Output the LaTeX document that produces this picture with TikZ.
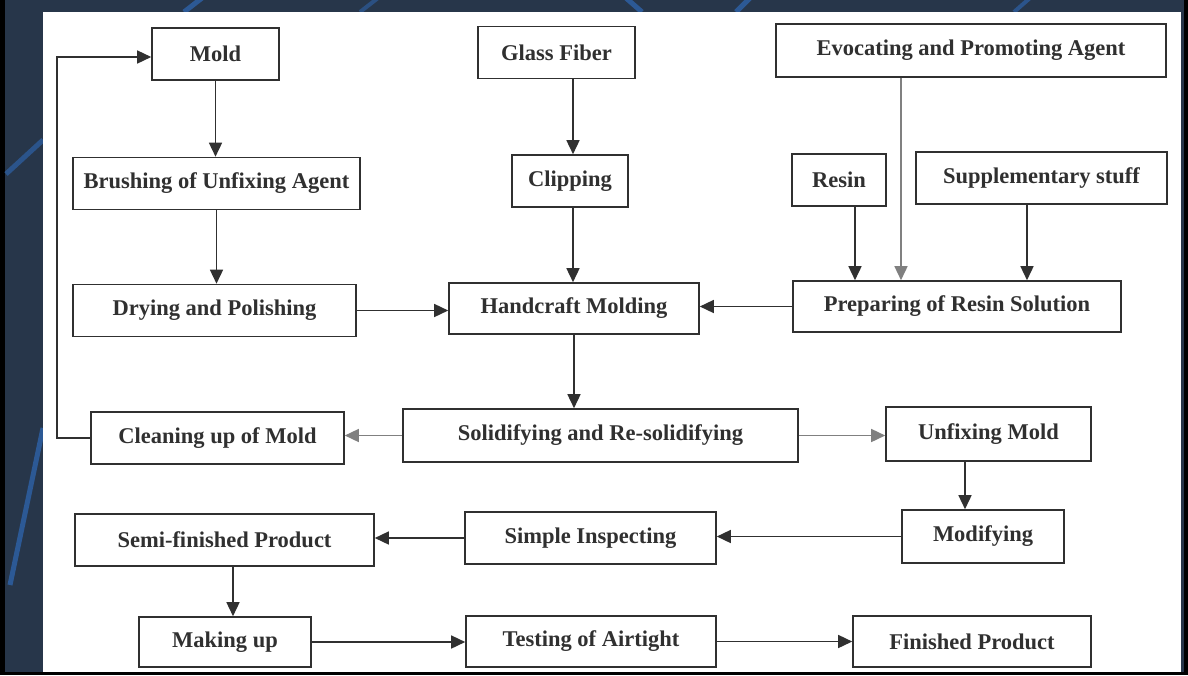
\documentclass[tikz,border=0pt]{standalone}
\usepackage{fontspec}
\setmainfont{Liberation Serif}
\usetikzlibrary{arrows.meta}
\definecolor{navy}{HTML}{27364A}
\definecolor{streak}{HTML}{2E62A8}
\definecolor{ink}{HTML}{303030}
\tikzset{
	stage/.style={draw=ink, line width=1.6pt, fill=white, inner sep=0pt, minimum height=52pt, text=ink, font=\bfseries\fontsize{22.5}{26}\selectfont},
	flow/.style={draw=ink, line width=1.5pt, -{Triangle[length=14pt,width=13pt]}},
	pale/.style={draw=black!50}
}

\begin{document}
\begin{tikzpicture}[x=1pt, y=-1pt]
	\useasboundingbox (0,0) rectangle (1188,675);
	%\draw[help lines, step=50] (0,0) grid (1188,675);
	\fill[black] (0,0) rectangle (1188,675);
	\fill[navy] (5,0) rectangle (1184,672);%slide
	\draw[streak, line width=5pt, opacity=0.8] (184,12) -- (202,-2);
	\draw[streak, line width=4pt, opacity=0.6] (360,12) -- (378,-2);
	\draw[streak, line width=5pt, opacity=0.8] (626,-2) -- (642,12);
	\draw[streak, line width=5pt, opacity=0.8] (750,-2) -- (736,12);
	\draw[streak, line width=4pt, opacity=0.7] (1030,-2) -- (1014,12);
	\draw[streak, line width=5pt, opacity=0.7] (6,174) -- (43,140);
	\draw[streak, line width=5pt, opacity=0.8] (10,585) -- (43,428);
	\fill[white] (43,12) rectangle (1181,672);%paper

	% first column
	\node[stage, minimum width=127pt] (mold) at (215.5,54) {Mold};
	\node[stage, minimum width=287pt] (brush) at (216.5,183.5) {Brushing of Unfixing Agent};
	\node[stage, minimum width=283pt] (dry) at (214.5,310.5) {Drying and Polishing};
	\node[stage, minimum width=253pt] (clean) at (217.5,438) {Cleaning up of Mold};
	\node[stage, minimum width=299pt] (semi) at (224.5,540) {Semi-finished Product};
	\node[stage, minimum width=172pt, minimum height=50pt] (makeup) at (225,642) {Making up};

	% middle column
	\node[stage, minimum width=157pt] (glass) at (556.5,52.5) {Glass Fiber};
	\node[stage, minimum width=116pt] (clip) at (570,181) {Clipping};
	\node[stage, minimum width=250pt, minimum height=51pt] (hand) at (574,308.5) {Handcraft Molding};
	\node[stage, minimum width=395pt, minimum height=53pt] (solid) at (600.5,435.5) {Solidifying and Re-solidifying};
	\node[stage, minimum width=251pt] (inspect) at (590.5,538) {Simple Inspecting};
	\node[stage, minimum width=250pt, minimum height=51pt] (airtight) at (591,641.5) {Testing of Airtight};

	% right column
	\node[stage, minimum width=390pt, minimum height=53pt] (evoke) at (971,50.5) {Evocating and Promoting Agent};
	\node[stage, minimum width=94pt] (resin) at (839,180) {Resin};
	\node[stage, minimum width=251pt] (supp) at (1041.5,178) {Supplementary stuff};
	\node[stage, minimum width=328pt, minimum height=51pt] (prep) at (957,306.5) {Preparing of Resin Solution};
	\node[stage, minimum width=205pt, minimum height=54pt] (unfix) at (988.5,434) {Unfixing Mold};
	\node[stage, minimum width=162pt, minimum height=53pt] (modify) at (983,536.5) {Modifying};
	\node[stage, minimum width=238pt, minimum height=51pt] (finish) at (972,641.5) {Finished Product};

	\draw[flow] (mold.south) -- (mold.south |- brush.north);
	\draw[flow] (brush.south) -- (brush.south |- dry.north);
	\draw[flow] (dry.east) -- (dry.east -| hand.west);
	\draw[flow] ([xshift=16.5pt]glass.south) -- ([xshift=16.5pt]glass.south |- clip.north);
	\draw[flow] ([xshift=3pt]clip.south) -- ([xshift=3pt]clip.south |- hand.north);
	\draw[flow] (resin.south) ++(16,0) -- ([xshift=16pt]resin.south |- prep.north);
	\draw[flow, pale] (evoke.south) ++(-70,0) -- ([xshift=-70pt]evoke.south |- prep.north);
	\draw[flow] ([xshift=-14.5pt]supp.south) -- ([xshift=-14.5pt]supp.south |- prep.north);
	\draw[flow] (prep.west) -- (prep.west -| hand.east);
	\draw[flow] (hand.south) -- (hand.south |- solid.north);
	\draw[flow, pale] (solid.west) -- (solid.west -| clean.east);
	\draw[flow, pale] (solid.east) -- (solid.east -| unfix.west);
	\draw[flow] (clean.west) -- ++(-33,0) |- ([yshift=-3pt]mold.west);%back to the mold
	\draw[flow] ([xshift=-23.5pt]unfix.south) -- ([xshift=-23.5pt]unfix.south |- modify.north);
	\draw[flow] (modify.west) -- (modify.west -| inspect.east);
	\draw[flow] (inspect.west) -- (inspect.west -| semi.east);
	\draw[flow] ([xshift=8.5pt]semi.south) -- ([xshift=8.5pt]semi.south |- makeup.north);
	\draw[flow] (makeup.east) -- (makeup.east -| airtight.west);
	\draw[flow] (airtight.east) -- (airtight.east -| finish.west);
\end{tikzpicture}
\end{document}
